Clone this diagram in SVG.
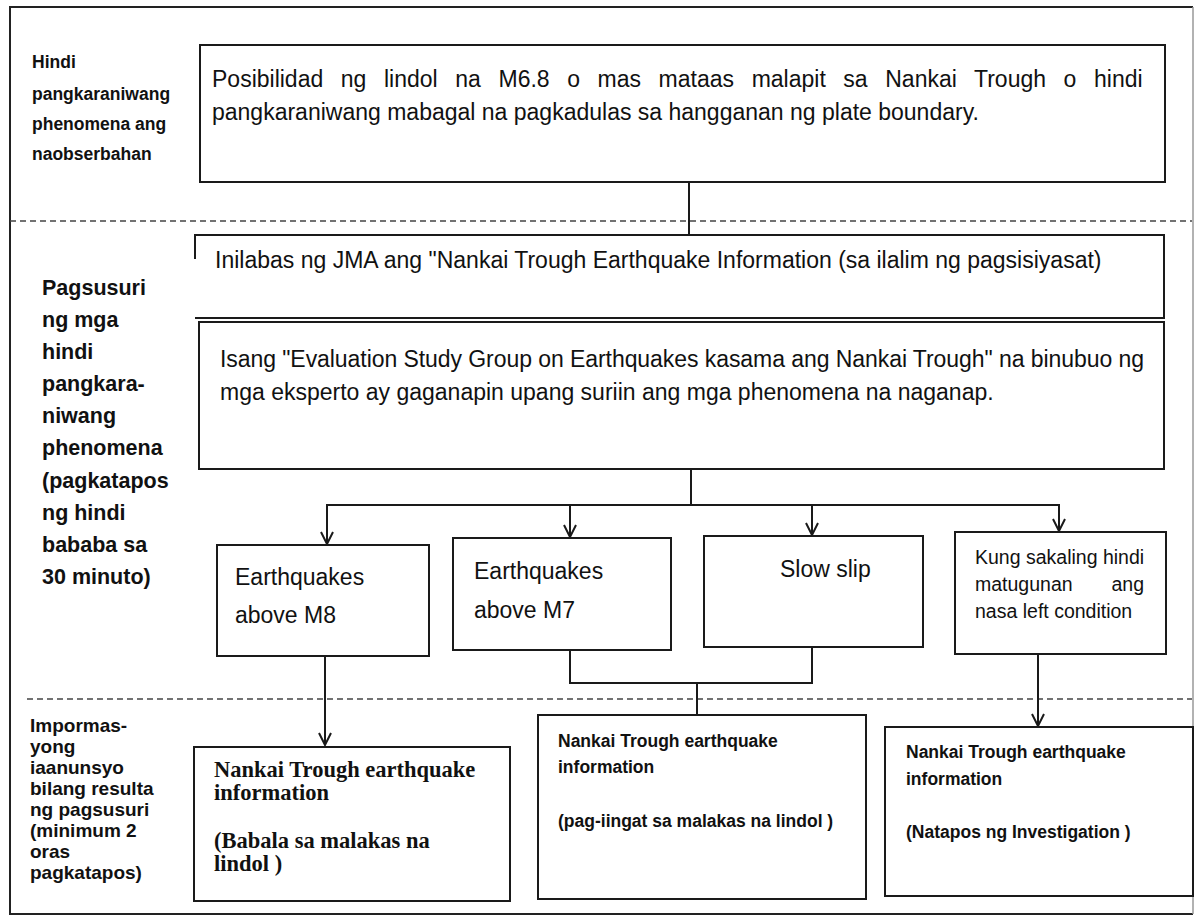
<svg xmlns="http://www.w3.org/2000/svg" width="1195" height="921" viewBox="0 0 1195 921">
<style>
.bx{fill:#fff;stroke:#1a1a1a;stroke-width:2}
.ln{fill:none;stroke:#1a1a1a;stroke-width:2}
.ds{fill:none;stroke:#444;stroke-width:1.6;stroke-dasharray:6 4}
.t{font-family:"Liberation Sans",Arial,sans-serif;fill:#111}
.m{font-size:23px}
.s{font-size:19.5px}
.lb1{font-family:"Liberation Sans",Arial,sans-serif;font-weight:bold;font-size:17.5px;fill:#111}
.lb2{font-family:"Liberation Sans",Arial,sans-serif;font-weight:bold;font-size:21.5px;fill:#111}
.lb3{font-family:"Liberation Sans",Arial,sans-serif;font-weight:bold;font-size:19px;fill:#111}
.bs{font-family:"Liberation Sans",Arial,sans-serif;font-weight:bold;font-size:17.5px;fill:#111}
.sf{font-family:"Liberation Serif","Times New Roman",serif;font-weight:bold;font-size:22.5px;fill:#111}
</style>
<defs>
<marker id="ah" viewBox="-14 -8 16 16" refX="0" refY="0" markerWidth="16" markerHeight="16" markerUnits="userSpaceOnUse" orient="auto">
<path d="M-12,-6 L0,0 L-12,6" fill="none" stroke="#1a1a1a" stroke-width="2"/>
</marker>
</defs>
<rect x="0" y="0" width="1195" height="921" fill="#fff"/>
<g id="frame">
<path d="M1193,7 H10 V914 H1193" fill="none" stroke="#222" stroke-width="2"/>
<line x1="1193" y1="7" x2="1193" y2="914" stroke="#999" stroke-width="1.5"/>
<line x1="10" y1="221" x2="1192" y2="221" class="ds"/>
<line x1="27" y1="699" x2="1192" y2="699" class="ds"/>
</g>
<g id="label-observed">
<text class="lb1" x="32" y="68">Hindi</text>
<text class="lb1" x="32" y="100">pangkaraniwang</text>
<text class="lb1" x="32" y="130">phenomena ang</text>
<text class="lb1" x="32" y="160">naobserbahan</text>
</g>
<g id="label-analysis">
<text class="lb2" x="42" y="295">Pagsusuri</text>
<text class="lb2" x="42" y="327">ng mga</text>
<text class="lb2" x="42" y="359">hindi</text>
<text class="lb2" x="42" y="391">pangkara-</text>
<text class="lb2" x="42" y="423">niwang</text>
<text class="lb2" x="42" y="455">phenomena</text>
<text class="lb2" x="42" y="488">(pagkatapos</text>
<text class="lb2" x="42" y="520">ng hindi</text>
<text class="lb2" x="42" y="552">bababa sa</text>
<text class="lb2" x="42" y="584">30 minuto)</text>
</g>
<g id="label-info">
<text class="lb3" x="30" y="732">Impormas-</text>
<text class="lb3" x="30" y="753">yong</text>
<text class="lb3" x="30" y="774">iaanunsyo</text>
<text class="lb3" x="30" y="795">bilang resulta</text>
<text class="lb3" x="30" y="816">ng pagsusuri</text>
<text class="lb3" x="30" y="837">(minimum 2</text>
<text class="lb3" x="30" y="858">oras</text>
<text class="lb3" x="30" y="879">pagkatapos)</text>
</g>
<g id="connectors">
<line class="ln" x1="689" y1="182" x2="689" y2="235"/>
<line class="ln" x1="691" y1="469" x2="691" y2="505"/>
<line class="ln" x1="326" y1="505" x2="1060" y2="505"/>
<line class="ln" x1="327" y1="505" x2="327" y2="544" marker-end="url(#ah)"/>
<line class="ln" x1="570" y1="505" x2="570" y2="537" marker-end="url(#ah)"/>
<line class="ln" x1="812" y1="505" x2="812" y2="535" marker-end="url(#ah)"/>
<line class="ln" x1="1059" y1="505" x2="1059" y2="531" marker-end="url(#ah)"/>
<path class="ln" d="M570,650 V683 H812 V647"/>
<line class="ln" x1="697" y1="683" x2="697" y2="715"/>
<line class="ln" x1="325" y1="656" x2="325" y2="745" marker-end="url(#ah)"/>
<line class="ln" x1="1038" y1="654" x2="1038" y2="726" marker-end="url(#ah)"/>
</g>
<g id="node-possibility">
<rect class="bx" x="200" y="45" width="965" height="137"/>
<text class="t m" x="212" y="87" word-spacing="11.2">Posibilidad ng lindol na M6.8 o mas mataas malapit sa Nankai Trough o hindi</text>
<text class="t m" x="212" y="120">pangkaraniwang mabagal na pagkadulas sa hangganan ng plate boundary.</text>
</g>
<g id="node-jma">
<path class="ln" d="M195,259 V235 H1164 V318 H195"/>
<text class="t m" x="215" y="268">Inilabas ng JMA ang "Nankai Trough Earthquake Information (sa ilalim ng pagsisiyasat)</text>
</g>
<g id="node-study">
<rect class="bx" x="199" y="322" width="965" height="147"/>
<text class="t m" x="220" y="367" textLength="924" lengthAdjust="spacing">Isang "Evaluation Study Group on Earthquakes kasama ang Nankai Trough" na binubuo ng</text>
<text class="t m" x="220" y="400">mga eksperto ay gaganapin upang suriin ang mga phenomena na naganap.</text>
</g>
<g id="node-m8">
<rect class="bx" x="217" y="545" width="212" height="111"/>
<text class="t m" x="235" y="585">Earthquakes</text>
<text class="t m" x="235" y="623">above M8</text>
</g>
<g id="node-m7">
<rect class="bx" x="453" y="538" width="218" height="112"/>
<text class="t m" x="474" y="579">Earthquakes</text>
<text class="t m" x="474" y="618">above M7</text>
</g>
<g id="node-slowslip">
<rect class="bx" x="704" y="536" width="219" height="111"/>
<text class="t m" x="780" y="577">Slow slip</text>
</g>
<g id="node-other">
<rect class="bx" x="955" y="532" width="211" height="122"/>
<text class="t s" x="975" y="564">Kung sakaling hindi</text>
<text class="t s" x="975" y="591">matugunan</text>
<text class="t s" x="1144" y="591" text-anchor="end">ang</text>
<text class="t s" x="975" y="618">nasa left condition</text>
</g>
<g id="node-warning">
<rect class="bx" x="194" y="747" width="316" height="154"/>
<text class="sf" x="214" y="777">Nankai Trough earthquake</text>
<text class="sf" x="214" y="800">information</text>
<text class="sf" x="214" y="848">(Babala sa malakas na</text>
<text class="sf" x="214" y="871">lindol )</text>
</g>
<g id="node-caution">
<rect class="bx" x="538" y="715" width="328" height="184"/>
<text class="bs" x="558" y="747">Nankai Trough earthquake</text>
<text class="bs" x="558" y="773">information</text>
<text class="bs" x="558" y="827">(pag-iingat sa malakas na lindol )</text>
</g>
<g id="node-finished">
<rect class="bx" x="885" y="727" width="308" height="169"/>
<text class="bs" x="906" y="758">Nankai Trough earthquake</text>
<text class="bs" x="906" y="785">information</text>
<text class="bs" x="906" y="838">(Natapos ng Investigation )</text>
</g>
</svg>
